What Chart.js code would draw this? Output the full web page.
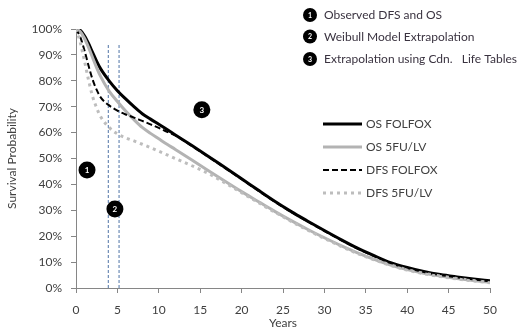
<!DOCTYPE html>
<html><head><meta charset="utf-8">
<script src="https://cdn.jsdelivr.net/npm/chart.js@4/dist/chart.umd.min.js"></script>
<style>html,body{margin:0;padding:0;background:#fff;}canvas{display:block;}</style>
</head><body>
<canvas id="c" width="517" height="334"></canvas>
<script>
const years = [0,0.5,1,1.5,2,2.5,3,4,5,6,7,8,9,10,11,12,14,16,18,20,22,24,26,28,30,32,34,36,38,40,42,44,46,48,50];
const osFolfox = [100,99.5,97.5,94.5,91,87.5,84.5,80,76.2,73,70,67.3,65.2,63.2,61.2,59.1,55,50.8,46.5,42.2,37.8,33.5,29.5,25.8,22.2,18.7,15.4,12.5,9.8,7.9,6.4,5.2,4.3,3.5,2.8];
const os5fu = [100,99,96.5,93,89,85,81.5,76,72,68.3,65,62,59.7,57.6,55.5,53.5,49.4,45.3,41.2,37.2,33.4,29.6,26,22.6,19.4,16.4,13.6,11.1,8.9,7.1,5.7,4.6,3.7,2.9,2.2];
const dfsFolfox = [100,97,92,86,80.5,76.5,73.5,70.5,68.5,67,65.8,64.5,63.2,61.8,60.3,58.9,54.8,50.6,46.3,42,37.6,33.3,29.3,25.6,22,18.5,15.2,12.3,9.6,7.7,6.2,5.0,4.1,3.3,2.6];
const dfs5fu = [100,95,88,80.5,74,69.5,66,62,59.5,58,56.8,55.5,54.2,52.8,51.4,50,47.2,44.2,40.6,36.8,33,29.3,25.7,22.3,19.1,16.1,13.3,10.9,8.7,6.9,5.5,4.4,3.5,2.7,2.0];
const seriesNames = ['OS FOLFOX','OS 5FU/LV','DFS FOLFOX','DFS 5FU/LV'];
const phaseYears = [3.9, 5.2];
const markerX = [1.33, 4.7, 15.2];
const markerY = [45.6, 30.5, 68.8];
const markerLabels = ['1','2','3'];
const phaseNotes = ['Observed DFS and OS','Weibull Model Extrapolation','Extrapolation using Cdn.   Life Tables'];
const yTickStep = 10;

const FONT = 'Lato, "Open Sans", sans-serif';
const TXT = '#404040';
const pts = arr => years.map((x,i)=>({x:x,y:arr[i]/100}));

const styles = [
  {color:'#000000', width:3, dash:[]},
  {color:'#b3b3b3', width:3, dash:[]},
  {color:'#000000', width:2, dash:[6,3]},
  {color:'#bdbdbd', width:3, dash:[3,4]}
];
const seriesData = [osFolfox, os5fu, dfsFolfox, dfs5fu];
const orders = [4,3,2,1];

const datasets = seriesData.map((arr,i)=>({
  type:'line', label:seriesNames[i], data:pts(arr), borderColor:styles[i].color,
  borderWidth:styles[i].width, borderDash:styles[i].dash, pointRadius:0,
  cubicInterpolationMode:'monotone', fill:false, order:orders[i]
}));
phaseYears.forEach(x=>datasets.push({
  type:'line', label:'phase', data:[{x:x,y:0},{x:x,y:0.94}], borderColor:'#4f73a6',
  borderWidth:1, borderDash:[3,2], pointRadius:0, fill:false, order:6
}));
datasets.push({
  type:'scatter', label:'markers', data:markerX.map((x,i)=>({x:x,y:markerY[i]/100})),
  pointRadius:8.5, pointBackgroundColor:'#000', pointBorderColor:'#000', borderWidth:0, order:0
});

const overlay = {
  id:'overlay',
  afterDatasetsDraw(chart){
    const ctx = chart.ctx;
    const meta = chart.getDatasetMeta(chart.data.datasets.length-1);
    ctx.save();
    ctx.fillStyle = '#fff';
    ctx.font = 'bold 8px ' + FONT;
    ctx.textAlign = 'center'; ctx.textBaseline = 'middle';
    meta.data.forEach((p,i)=>ctx.fillText(markerLabels[i], p.x, p.y+0.5));
    const rows = [15, 36.5, 59];
    rows.forEach((y,i)=>{
      ctx.fillStyle = '#000';
      ctx.beginPath(); ctx.arc(310, y, 7, 0, Math.PI*2); ctx.fill();
      ctx.fillStyle = '#fff'; ctx.font = 'bold 7px ' + FONT; ctx.textAlign='center';
      ctx.fillText(markerLabels[i], 310, y+0.5);
      ctx.fillStyle = '#3a3340'; ctx.font = '12px ' + FONT; ctx.textAlign='left';
      ctx.fillText(phaseNotes[i], 324, y+0.5);
    });
    const lrows = [124, 147, 170, 193];
    lrows.forEach((y,i)=>{
      const s = styles[i];
      ctx.strokeStyle = s.color; ctx.lineWidth = s.width; ctx.setLineDash(s.dash);
      ctx.beginPath(); ctx.moveTo(323, y); ctx.lineTo(362, y); ctx.stroke();
      ctx.setLineDash([]);
      ctx.fillStyle = TXT; ctx.font = '12px ' + FONT; ctx.textAlign='left';
      ctx.fillText(seriesNames[i], 366, y+0.5);
    });
    ctx.restore();
  }
};

new Chart(document.getElementById('c'), {
  data:{datasets:datasets},
  options:{
    responsive:false, animation:false, devicePixelRatio:1,
    layout:{padding:{top:29,right:27,left:0,bottom:0}},
    plugins:{legend:{display:false}, tooltip:{enabled:false}},
    scales:{
      x:{type:'linear', min:0, max:50,
        ticks:{stepSize:5, font:{family:FONT,size:12}, color:TXT, padding:10, maxRotation:0},
        grid:{drawOnChartArea:false, drawTicks:true, tickLength:5, color:'#868686'},
        border:{color:'#868686', width:1},
        title:{display:true, text:'Years', font:{family:FONT,size:12}, color:TXT, padding:{top:0,bottom:4}},
        afterFit(s){ s.height = 46; }
      },
      y:{type:'linear', min:0, max:1,
        ticks:{stepSize:yTickStep/100, font:{family:FONT,size:12}, color:TXT, padding:9,
          callback:v=>Math.round(v*100)+'%'},
        grid:{drawOnChartArea:false, drawTicks:true, tickLength:5, color:'#868686'},
        border:{color:'#868686', width:1},
        title:{display:true, text:'Survival Probability', font:{family:FONT,size:12}, color:TXT, padding:{top:5,bottom:0}},
        afterFit(s){ s.width = 76; }
      }
    }
  },
  plugins:[overlay]
});
</script>
</body></html>
